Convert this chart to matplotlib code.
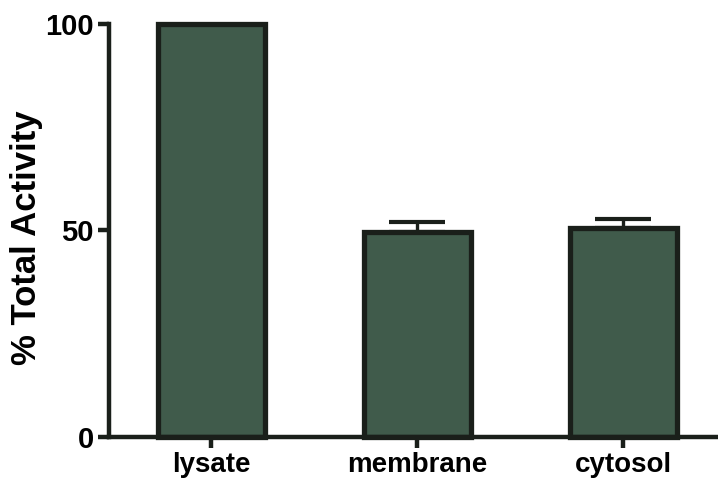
import matplotlib
matplotlib.use("Agg")
import matplotlib.pyplot as plt

categories = ["lysate", "membrane", "cytosol"]
values = [100, 49.7, 50.6]
err_upper = [0, 2.3, 2.1]
tick_values = [0, 50, 100]

plt.rcParams['font.family'] = ['Liberation Sans', 'DejaVu Sans']
plt.rcParams['font.weight'] = 'bold'

fig = plt.figure(figsize=(7.18, 4.87), dpi=100)
ax = fig.add_axes([0.152, 0.103, 0.848, 0.848])

dark = "#1a1f1a"
x = list(range(len(categories)))
for xi, v, e in zip(x, values, err_upper):
    if e > 0:
        ax.errorbar(xi, v, yerr=[[0], [e]], fmt='none', ecolor=dark,
                    elinewidth=2.4, capsize=20, capthick=3.0, zorder=2, clip_on=False)
ax.bar(x, values, width=0.52, color="#405b4b", edgecolor=dark,
       linewidth=3.8, zorder=3, clip_on=False)

ax.set_xlim(-0.495, 2.46)
ax.set_ylim(0, 100)
ax.set_yticks(tick_values)
ax.set_yticklabels([str(t) for t in tick_values], fontsize=21, fontweight='bold')
ax.set_xticks(x)
ax.set_xticklabels(categories, fontsize=20, fontweight='bold')
ax.set_ylabel("% Total Activity", fontsize=25, fontweight='bold')
ax.yaxis.set_label_coords(-0.108, 0.483)

for s in ['top', 'right']:
    ax.spines[s].set_visible(False)
for s in ['left', 'bottom']:
    ax.spines[s].set_linewidth(3.2)
    ax.spines[s].set_color(dark)
    ax.spines[s].set_zorder(4)
ax.tick_params(axis='both', width=3.2, length=8, color=dark, pad=3)

fig.savefig("out.png", dpi=100)
